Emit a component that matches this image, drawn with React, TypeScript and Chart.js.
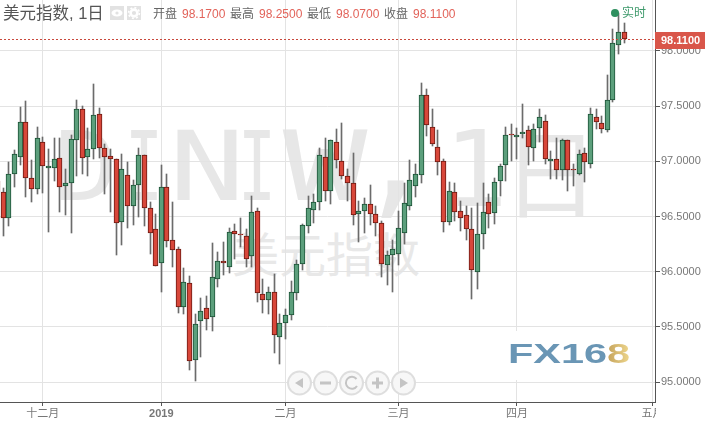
import React, { useEffect, useRef } from "react";
import { Chart, registerables } from "chart.js";

Chart.register(...registerables);

const opens = [96.82,96.72,96.49,96.89,97.04,97.36,96.85,96.75,97.18,96.94,96.94,97.03,96.78,96.80,97.19,97.47,97.04,97.11,97.43,97.12,97.05,97.02,96.45,96.88,96.60,96.79,97.06,96.58,96.39,96.08,96.77,96.29,96.21,95.68,95.90,95.20,95.55,95.67,95.59,95.93,96.10,96.04,96.37,96.34,96.32,96.14,96.55,95.80,95.74,95.82,95.41,95.54,95.61,95.81,96.07,96.41,96.56,96.63,97.04,96.73,97.18,97.00,96.87,96.80,96.52,96.55,96.61,96.52,96.44,96.06,96.15,96.16,96.35,96.60,96.78,96.88,97.60,97.31,97.13,97.00,96.45,96.72,96.55,96.51,96.39,96.00,96.34,96.63,96.53,96.82,96.97,97.25,97.22,97.25,97.28,97.12,97.30,97.37,97.00,97.02,96.92,97.19,96.93,96.89,97.08,96.98,97.40,97.35,97.28,97.56,98.05,98.17];
const highs = [96.88,96.76,96.99,97.10,97.49,97.55,97.01,97.31,97.22,97.11,97.21,97.21,96.93,97.24,97.56,97.50,97.30,97.70,97.48,97.16,97.11,97.02,97.07,96.99,96.83,97.12,97.06,96.63,96.52,96.97,96.89,96.63,96.22,96.03,95.96,95.62,95.76,95.78,96.26,96.18,96.27,96.40,96.43,96.49,96.39,96.69,96.58,95.93,95.86,95.98,95.62,95.66,95.92,96.11,96.43,96.69,96.70,97.12,97.21,97.19,97.29,97.35,96.93,97.08,96.64,96.67,96.79,96.60,96.46,96.19,96.29,96.55,96.80,97.01,96.98,97.71,97.66,97.47,97.28,97.02,96.81,96.80,96.64,96.60,96.58,96.62,96.80,96.70,96.85,96.98,97.31,97.34,97.30,97.52,97.32,97.34,97.47,97.42,97.09,97.21,97.20,97.19,96.98,97.10,97.12,97.48,97.47,97.41,97.78,98.20,98.34,98.25];
const lows = [96.51,96.32,96.41,96.77,96.97,96.68,96.63,96.70,96.71,96.36,96.82,96.54,96.51,96.35,96.87,96.89,96.87,97.02,97.03,96.70,96.54,96.15,96.24,96.40,96.42,96.50,96.41,96.16,96.05,95.82,96.22,96.04,95.63,95.62,95.11,95.01,95.23,95.47,95.46,95.86,95.97,95.99,96.12,96.22,96.04,96.04,95.73,95.63,95.62,95.26,95.16,95.39,95.56,95.74,96.02,96.35,96.44,96.56,96.64,96.61,96.94,96.84,96.64,96.42,96.27,96.35,96.42,96.32,95.95,95.88,95.82,96.06,96.25,96.56,96.68,96.80,97.23,97.14,96.88,96.36,96.42,96.46,96.37,96.29,95.75,95.84,96.21,96.40,96.43,96.69,96.82,97.00,97.02,97.21,96.97,97.00,97.18,96.98,96.84,96.84,96.83,96.73,96.78,96.88,96.81,96.94,97.29,97.26,97.27,97.54,97.97,98.07];
const closes = [96.72,96.49,96.89,97.07,97.36,96.85,96.75,97.21,96.96,96.96,97.02,96.77,96.80,97.20,97.47,97.03,97.11,97.42,97.12,97.04,97.02,96.44,96.93,96.60,96.79,97.06,96.58,96.35,96.05,96.77,96.28,96.20,95.68,95.91,95.19,95.53,95.64,95.57,95.95,96.10,96.08,96.36,96.34,96.33,96.12,96.54,95.81,95.74,95.82,95.43,95.54,95.61,95.82,96.07,96.42,96.58,96.63,97.06,96.73,97.19,97.01,96.87,96.80,96.51,96.55,96.61,96.52,96.44,96.07,96.15,96.21,96.40,96.62,96.83,96.89,97.60,97.33,97.16,96.99,96.45,96.73,96.54,96.49,96.39,96.02,96.34,96.54,96.52,96.81,96.96,97.24,97.24,97.24,97.27,97.13,97.29,97.40,97.02,97.02,96.92,97.19,96.92,96.92,97.07,96.99,97.43,97.36,97.29,97.56,98.07,98.17,98.11];

const monthTickIndex = [8, 29, 51, 71, 92, 116];
const monthLabels = ["十二月", "2019", "二月", "三月", "四月", "五月"];
const priceTicks = [95, 95.5, 96, 96.5, 97, 97.5, 98];

const headerName = "美元指数, 1日";
const headerQuotes = [
  ["开盘", "98.1700"],
  ["最高", "98.2500"],
  ["最低", "98.0700"],
  ["收盘", "98.1100"],
];
const lastPrice = 98.11;

const RED = "#d8473a";
const RED_DARK = "#6e1a12";
const GREEN = "#5c9f7c";
const GREEN_DARK = "#1c5236";
const WICK = "#6b6b6b";
const SANS = '"Liberation Sans", "Noto Sans CJK SC", sans-serif';

const snapPlugin = {
  id: "snap",
  afterDatasetsUpdate(chart: any) {
    chart.data.datasets.forEach((_: any, i: number) => {
      chart.getDatasetMeta(i).data.forEach((el: any) => {
        el.x = Math.floor(el.x) + 0.5;
        el.y = Math.round(el.y);
        el.base = Math.round(el.base);
      });
    });
  },
};

const pricePlugin = {
  id: "priceLine",
  afterDatasetsDraw(chart: any) {
    const { ctx, chartArea, scales } = chart;
    const y = Math.round(scales.y.getPixelForValue(lastPrice)) + 0.5;
    ctx.save();
    ctx.strokeStyle = "#c9483c";
    ctx.lineWidth = 1;
    ctx.setLineDash([2, 2]);
    ctx.beginPath();
    ctx.moveTo(chartArea.left, y);
    ctx.lineTo(chartArea.right, y);
    ctx.stroke();
    ctx.restore();
  },
  afterDraw(chart: any) {
    const { ctx, chartArea, scales, width } = chart;
    const y = Math.round(scales.y.getPixelForValue(lastPrice));
    ctx.save();
    ctx.fillStyle = "#ffffff";
    ctx.fillRect(chartArea.right + 1, chartArea.bottom + 1, width - chartArea.right, 30);
    ctx.fillStyle = "#d9564a";
    ctx.fillRect(chartArea.right, y - 7, width - chartArea.right, 17);
    ctx.fillStyle = "#ffffff";
    ctx.font = `bold 11px ${SANS}`;
    ctx.textBaseline = "middle";
    ctx.fillText(lastPrice.toFixed(4), chartArea.right + 6, y + 2);
    ctx.restore();
  },
};

function Overlays() {
  const btn = (cx: number, glyph: React.ReactNode) => (
    <g key={cx}>
      <circle cx={cx} cy={383} r={11.5} fill="#f7f7f7" stroke="#dedede" strokeWidth={2} />
      {glyph}
    </g>
  );
  return (
    <svg width={705} height={422} style={{ position: "absolute", left: 0, top: 0, zIndex: 3 }}>
      <rect x={110} y={6} width={14} height={14} fill="#e2e2e2" />
      <ellipse cx={117} cy={13} rx={5.5} ry={3.5} fill="#fff" />
      <circle cx={117} cy={13} r={1.6} fill="#e2e2e2" />
      <rect x={127} y={6} width={14} height={14} fill="#e2e2e2" />
      <circle cx={134} cy={13} r={3.4} fill="none" stroke="#fff" strokeWidth={2.6} />
      <circle cx={134} cy={13} r={5.4} fill="none" stroke="#fff" strokeWidth={1.6} strokeDasharray="2 2.2" />
      <circle cx={615} cy={13} r={4} fill="#2f8f5f" />
      {btn(299.5, <path d="M295 383 L303 378 L303 388 Z" fill="#c4c4c4" />)}
      {btn(325.5, <rect x={320} y={381.5} width={11} height={3} fill="#c4c4c4" />)}
      {btn(351.5, (
        <path d="M356.5 379 A6 6 0 1 0 357 386" fill="none" stroke="#c4c4c4" strokeWidth={2} />
      ))}
      {btn(377.5, <path d="M372 381.5 H376 V377.5 H379 V381.5 H383 V384.5 H379 V388.5 H376 V384.5 H372 Z" fill="#c4c4c4" />)}
      {btn(403.5, <path d="M408 383 L400 378 L400 388 Z" fill="#c4c4c4" />)}
    </svg>
  );
}

export default function App() {
  const ref = useRef<HTMLCanvasElement>(null);
  useEffect(() => {
    const body = opens.map((o, i) => ({ x: i, y: [o, closes[i]] }));
    const wick = lows.map((l, i) => ({ x: i, y: [l, highs[i]] }));
    const up = opens.map((o, i) => closes[i] >= o);
    const chart = new Chart(ref.current as HTMLCanvasElement, {
      type: "bar",
      data: {
        datasets: [
          {
            data: body as any,
            grouped: false,
            order: 1,
            barThickness: 5,
            borderWidth: 1,
            borderSkipped: false,
            backgroundColor: up.map((u) => (u ? GREEN : RED)),
            borderColor: up.map((u) => (u ? GREEN_DARK : RED_DARK)),
          },
          {
            data: wick as any,
            grouped: false,
            order: 2,
            barThickness: 1,
            borderWidth: 0,
            backgroundColor: WICK,
          },
        ],
      },
      options: {
        animation: false,
        responsive: false,
        layout: { padding: 0 },
        plugins: { legend: { display: false }, tooltip: { enabled: false } },
        scales: {
          x: {
            type: "linear",
            min: 0.416,
            max: 116.45,
            offset: false,
            afterBuildTicks: (axis: any) => {
              axis.ticks = monthTickIndex.map((value) => ({ value }));
            },
            afterFit: (s: any) => {
              s.height = 20;
              s.paddingLeft = 0;
              s.paddingRight = 0;
            },
            border: { color: "#555555", width: 1 },
            grid: { offset: false, color: "#e3e3e3", lineWidth: 1, tickColor: "#555555", tickLength: 4 },
            ticks: {
              autoSkip: false,
              maxRotation: 0,
              padding: 1,
              color: "#777777",
              font: (c: any) => ({
                family: SANS,
                size: 11,
                weight: c.tick && c.tick.label === "2019" ? "bold" : "normal",
              }),
              callback: (v: any) => monthLabels[monthTickIndex.indexOf(Number(v))],
            },
          } as any,
          y: {
            position: "right",
            min: 94.82,
            max: 98.462,
            afterBuildTicks: (axis: any) => {
              axis.ticks = priceTicks.map((value) => ({ value }));
            },
            afterFit: (s: any) => {
              s.width = 50;
              s.paddingTop = 0;
              s.paddingBottom = 0;
            },
            border: { color: "#555555", width: 1 },
            grid: { color: "#e3e3e3", lineWidth: 1, tickColor: "#555555", tickLength: 5 },
            ticks: {
              padding: 1,
              color: "#777777",
              font: { family: SANS, size: 11 },
              callback: (v: any) => Number(v).toFixed(4),
            },
          } as any,
        },
      },
      plugins: [snapPlugin, pricePlugin],
    } as any);
    return () => chart.destroy();
  }, []);

  const abs = (extra: React.CSSProperties): React.CSSProperties => ({
    position: "absolute",
    whiteSpace: "nowrap",
    lineHeight: 1,
    fontFamily: SANS,
    ...extra,
  });
  const quoteX = [153, 230, 307, 384];
  const wmFont = '"DejaVu Sans Mono", monospace';
  const wmGlyph = (ch: string, cx: number, top: number, size: number, sx: number, family = wmFont) => (
    <div
      key={ch + cx}
      style={abs({
        left: cx,
        top,
        fontSize: size,
        color: "#e7e7e7",
        zIndex: 0,
        fontFamily: family,
        transform: `translateX(-50%) scaleX(${sx})`,
      })}
    >
      {ch}
    </div>
  );

  return (
    <div style={{ position: "absolute", left: 0, top: 0, width: 705, height: 422, overflow: "hidden", background: "#fff" }}>
      {wmGlyph("D", 86, 118, 97, 1.1)}
      {wmGlyph("I", 144, 118, 97, 0.65)}
      {wmGlyph("N", 207, 118, 97, 1.3)}
      {wmGlyph("I", 257, 118, 97, 0.65)}
      {wmGlyph("W", 325, 118, 97, 1.45)}
      {wmGlyph(",", 395, 90, 130, 1)}
      {wmGlyph("1", 476, 117, 106, 1)}
      {wmGlyph("日", 551, 119, 97, 1, '"Noto Sans CJK SC", sans-serif')}
      <div style={abs({ left: 232, top: 228, fontSize: 47, color: "#e8e8e8", zIndex: 0, fontFamily: '"Noto Sans CJK SC", sans-serif' })}>
        美元指数
      </div>
      <canvas ref={ref} width={705} height={422} style={{ position: "absolute", left: 0, top: 0, zIndex: 1 }} />
      <div style={abs({ left: 3, top: 5, fontSize: 16.5, color: "#555", zIndex: 2 })}>{headerName}</div>
      {headerQuotes.map(([name, value], i) => (
        <React.Fragment key={name}>
          <div style={abs({ left: quoteX[i], top: 8, fontSize: 12, color: "#666", zIndex: 2 })}>{name}</div>
          <div style={abs({ left: quoteX[i] + 29, top: 8, fontSize: 12, color: "#e2635a", zIndex: 2 })}>{value}</div>
        </React.Fragment>
      ))}
      <div style={abs({ left: 622, top: 7, fontSize: 12, color: "#3f9a6c", zIndex: 2 })}>实时</div>
      <div style={{ position: "absolute", left: 505, top: 331, width: 130, height: 49, background: "#fff", zIndex: 2 }} />
      <div
        style={abs({
          left: 508,
          top: 340,
          fontSize: 28,
          fontWeight: "bold",
          color: "#6a96b5",
          zIndex: 2,
          transform: "scaleX(1.48)",
          transformOrigin: "left top",
        })}
      >
        FX16
        <span
          style={{
            backgroundImage: "linear-gradient(90deg, #c5a35c, #f0d98f)",
            WebkitBackgroundClip: "text",
            backgroundClip: "text",
            color: "transparent",
          }}
        >
          8
        </span>
      </div>
      <Overlays />
    </div>
  );
}
